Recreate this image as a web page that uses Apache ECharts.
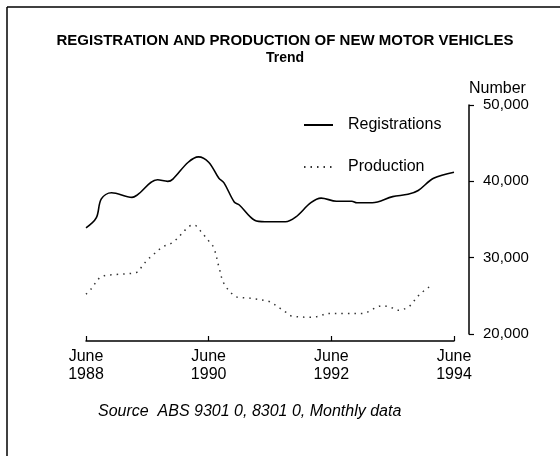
<!DOCTYPE html>
<html lang="en">
<head>
    <meta charset="UTF-8">
    <title>Registration and production of new motor vehicles</title>
    <script src="https://cdn.jsdelivr.net/npm/echarts@6/dist/echarts.min.js"></script>
    <style>
        html, body { margin: 0; padding: 0; background: #fff; }
        #main { width: 560px; height: 456px; }
    </style>
</head>
<body>
<div id="main"></div>
<script type="text/javascript">
    // months counted from June 1988
    var regMonths = [0, 2, 3, 5, 9, 10, 14, 16, 17, 20, 22, 24, 26, 27, 29, 30, 33, 35, 39, 41, 44, 46, 49, 52, 53, 56, 60, 63, 65, 68, 72];
    var regValues = [33900, 35200, 37700, 38500, 37900, 38200, 40200, 40000, 40300, 42500, 43200, 42500, 40400, 39800, 37300, 36900, 34900, 34700, 34700, 35300, 37200, 37800, 37400, 37400, 37200, 37200, 38000, 38300, 38800, 40400, 41200];

    var prodMonths = [0, 1, 3, 6, 10, 11, 12, 13, 15, 17, 20, 21, 23, 24, 25, 26, 27, 29, 30, 32, 33, 35, 36, 39, 40, 44, 46, 47, 51, 54, 58, 60, 61, 63, 64, 65, 66, 67, 68];
    var prodValues = [25200, 25900, 27500, 27800, 28100, 28900, 29700, 30300, 31400, 32000, 34000, 34300, 33000, 32200, 31300, 28800, 26600, 25000, 24800, 24700, 24600, 24400, 24200, 22900, 22400, 22200, 22400, 22700, 22700, 22700, 23700, 23400, 23100, 23500, 24200, 25000, 25600, 26100, 26300];

    var xTickLabels = ['June\n1988', 'June\n1990', 'June\n1992', 'June\n1994'];

    var font = 'Liberation Sans';

    function pairs(xs, ys) {
        var out = [];
        for (var i = 0; i < xs.length; i++) out.push([xs[i], ys[i]]);
        return out;
    }

    var myChart = echarts.init(document.getElementById('main'));

    var option = {
        backgroundColor: '#fff',
        animation: false,
        title: [{
            text: 'REGISTRATION AND PRODUCTION OF NEW MOTOR VEHICLES',
            subtext: 'Trend',
            left: 280,
            top: 28,
            textAlign: 'center',
            itemGap: 3,
            textStyle: {fontFamily: font, fontSize: 15, fontWeight: 'bold', color: '#000'},
            subtextStyle: {fontFamily: font, fontSize: 14, fontWeight: 'bold', color: '#000'}
        }, {
            text: 'Source  ABS 9301 0, 8301 0, Monthly data',
            left: 93,
            top: 399,
            textStyle: {fontFamily: font, fontSize: 16, fontStyle: 'italic', fontWeight: 'normal', color: '#000'}
        }],
        legend: {
            orient: 'vertical',
            left: 298,
            top: 112,
            itemWidth: 29,
            itemHeight: 14,
            itemGap: 26,
            itemStyle: {opacity: 0},
            textStyle: {fontFamily: font, fontSize: 16, color: '#000', padding: [0, 0, 0, 10]},
            data: ['Registrations', 'Production']
        },
        grid: {left: 86, right: 106, top: 105, bottom: 122},
        xAxis: {
            type: 'value',
            min: 0,
            max: 72,
            interval: 24,
            offset: 7,
            splitLine: {show: false},
            axisLine: {onZero: false, lineStyle: {color: '#000', width: 1.5}},
            axisTick: {inside: true, length: 5, lineStyle: {color: '#000', width: 1.2}},
            axisLabel: {
                fontFamily: font, fontSize: 16, color: '#000', lineHeight: 18, margin: 7,
                formatter: function (v) { return xTickLabels[Math.round(v / 24)]; }
            }
        },
        yAxis: {
            type: 'value',
            position: 'right',
            offset: 15,
            min: 20000,
            max: 50000,
            interval: 10000,
            name: 'Number',
            nameLocation: 'end',
            nameGap: 8,
            nameTextStyle: {fontFamily: font, fontSize: 16, color: '#000', align: 'left'},
            splitLine: {show: false},
            axisLine: {show: true, onZero: false, lineStyle: {color: '#000', width: 1.5}},
            axisTick: {show: true, length: 5, lineStyle: {color: '#000', width: 1.2}},
            axisLabel: {
                fontFamily: font, fontSize: 15, color: '#000', margin: 14,
                formatter: function (v) { return v.toLocaleString('en-US'); }
            }
        },
        series: [{
            name: 'Registrations',
            type: 'line',
            smooth: 0.35,
            symbol: 'none',
            lineStyle: {color: '#000', width: 1.6},
            itemStyle: {color: '#000'},
            data: pairs(regMonths, regValues)
        }, {
            name: 'Production',
            type: 'line',
            smooth: 0.35,
            symbol: 'none',
            lineStyle: {color: '#333', width: 1.5, type: [1.5, 5]},
            itemStyle: {color: '#333'},
            data: pairs(prodMonths, prodValues)
        }],
        graphic: [{
            type: 'line',
            shape: {x1: 7, y1: 7, x2: 560, y2: 7},
            style: {stroke: '#000', lineWidth: 1.5}
        }, {
            type: 'line',
            shape: {x1: 7, y1: 7, x2: 7, y2: 456},
            style: {stroke: '#000', lineWidth: 1.5}
        }]
    };

    myChart.setOption(option);
</script>
</body>
</html>
